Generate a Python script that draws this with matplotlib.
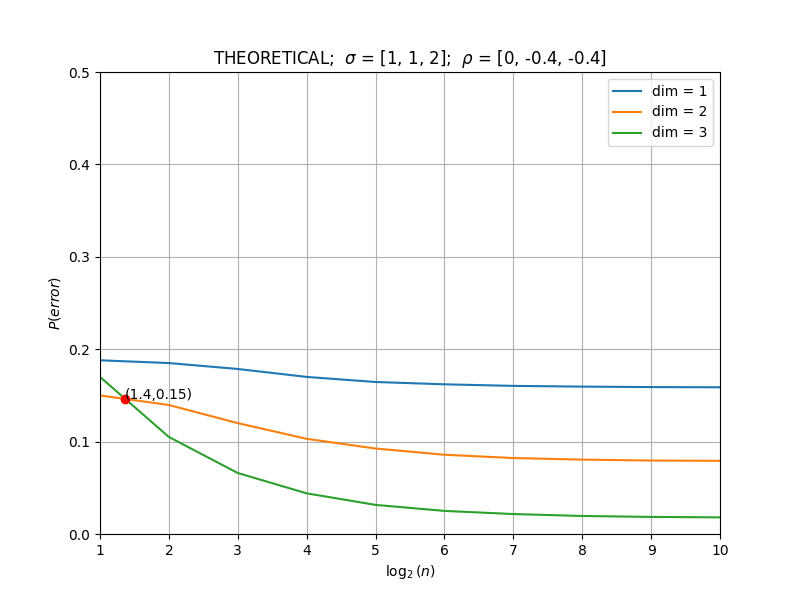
import numpy as np
import matplotlib
matplotlib.use('Agg')
import matplotlib.pyplot as plt

# log2(n)
log_n = [1, 2, 3, 4, 5, 6, 7, 8, 9, 10]

# P(error) cho tung so chieu
p_dim1 = [0.188, 0.185, 0.1786, 0.170, 0.1645, 0.162, 0.1603, 0.1595, 0.159, 0.1588]
p_dim2 = [0.150, 0.1396, 0.120, 0.103, 0.0925, 0.0858, 0.0822, 0.0805, 0.0795, 0.0792]
p_dim3 = [0.170, 0.105, 0.066, 0.044, 0.0315, 0.025, 0.0216, 0.0195, 0.0185, 0.018]

# diem giao nhau danh dau
cross_x = 1.36
cross_y = 0.146

fig, ax = plt.subplots(figsize=(8, 6), dpi=100)
ax.plot(log_n, p_dim1, label='dim = 1')
ax.plot(log_n, p_dim2, label='dim = 2')
ax.plot(log_n, p_dim3, label='dim = 3')

ax.plot(cross_x, cross_y, 'o', color='red')
ax.text(cross_x, cross_y, '(%.1f,%.2f)' % (cross_x, cross_y))

ax.set_xlim(1, 10)
ax.set_ylim(0, 0.5)
ax.set_title(r'THEORETICAL;  $\sigma$ = [1, 1, 2];  $\rho$ = [0, -0.4, -0.4]')
ax.set_xlabel(r'$\log_2(n)$')
ax.set_ylabel(r'$P(error)$')
ax.grid(True)
ax.legend(loc='upper right')

plt.savefig('out.png')
